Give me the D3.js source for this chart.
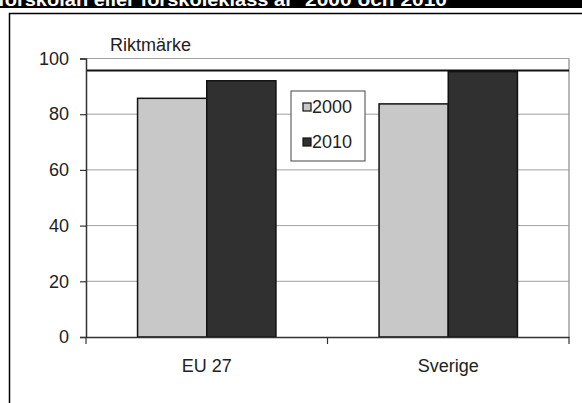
<!DOCTYPE html>
<html><head><meta charset="utf-8">
<script src="https://cdn.jsdelivr.net/npm/d3@7"></script>
<style>body{margin:0;background:#fff}svg{display:block}text{font-family:"Liberation Sans",Arial,sans-serif}</style>
</head><body>
<script>
const categories = ["EU 27", "Sverige"];
const seriesNames = ["2000", "2010"];
const values2000 = [85.7, 83.7];
const values2010 = [92.0, 95.3];
const benchmark = 95.7;
const benchmarkLabel = "Riktmärke";
const yTicks = [0, 20, 40, 60, 80, 100];
const titleStart = "förskolan eller förskoleklass år";
const titleEnd = "2000 och 2010";

const W = 582, H = 403;
const svg = d3.select("body").append("svg").attr("width", W).attr("height", H);

// title band
svg.append("rect").attr("x",0).attr("y",0).attr("width",W).attr("height",8).attr("fill","#000");
svg.append("clipPath").attr("id","tc").append("rect").attr("x",0).attr("y",0).attr("width",W).attr("height",8);
const tt = svg.append("text").attr("clip-path","url(#tc)").attr("y",5.5).attr("fill","#fff")
  .attr("font-weight","bold").attr("font-size",19);
tt.append("tspan").attr("x",-2).attr("textLength",295).attr("lengthAdjust","spacingAndGlyphs").text(titleStart);
tt.append("tspan").attr("x",305).attr("textLength",142).attr("lengthAdjust","spacingAndGlyphs").text(titleEnd);

// outer frame
svg.append("path").attr("d","M9.5,420 L9.5,13.5 L600,13.5").attr("fill","none").attr("stroke","#000").attr("stroke-width",1.5);

const L = 86, R = 569, T = 58.5, B = 337;
const x = d3.scaleBand().domain(categories).range([L, R]).padding(0);
const groupW = x.bandwidth() * 0.573;
const x1 = d3.scaleBand().domain(seriesNames).range([0, groupW]).padding(0);
const y = d3.scaleLinear().domain([0, 100]).range([B, T]);
const colors = {"2000": "#c8c8c8", "2010": "#303030"};

// gridlines
svg.append("g").selectAll("line").data(yTicks.filter(d => d > 0)).join("line")
  .attr("x1", L).attr("x2", R).attr("y1", d => y(d)).attr("y2", d => y(d))
  .attr("stroke", "#a0a0a0").attr("stroke-width", 1);
// right border
svg.append("line").attr("x1", R).attr("x2", R).attr("y1", T).attr("y2", B).attr("stroke", "#a0a0a0").attr("stroke-width", 1.5);

// bars
const data = categories.map((c, i) => ({c, vals: [{s: "2000", v: values2000[i]}, {s: "2010", v: values2010[i]}]}));
const g = svg.append("g").selectAll("g").data(data).join("g")
  .attr("transform", d => `translate(${x(d.c) + (x.bandwidth() - groupW) / 2},0)`);
g.selectAll("rect").data(d => d.vals).join("rect")
  .attr("x", d => x1(d.s)).attr("width", x1.bandwidth())
  .attr("y", d => y(d.v)).attr("height", d => y(0) - y(d.v))
  .attr("fill", d => colors[d.s]).attr("stroke", "#111").attr("stroke-width", 1.5);

// benchmark line
svg.append("line").attr("x1", L).attr("x2", R).attr("y1", y(benchmark)).attr("y2", y(benchmark))
  .attr("stroke", "#111").attr("stroke-width", 2);
svg.append("text").attr("x", 110).attr("y", 51).attr("font-size", 18).attr("fill", "#222").text(benchmarkLabel);

// y axis
const yAxis = d3.axisLeft(y).tickValues(yTicks).tickSize(6).tickPadding(11).tickFormat(d3.format("d"));
const ya = svg.append("g").attr("transform", `translate(${L},0)`).call(yAxis);
ya.select(".domain").attr("stroke", "#333").attr("stroke-width", 1.5);
ya.selectAll(".tick line").attr("stroke", "#333").attr("stroke-width", 1.2);
ya.selectAll(".tick text").attr("font-size", 18).attr("fill", "#222").attr("font-family", "Liberation Sans, Arial, sans-serif");

// x axis
const xa = svg.append("g").attr("transform", `translate(0,${B})`).call(d3.axisBottom(x).tickSize(0).tickPadding(22));
xa.select(".domain").attr("stroke", "#333").attr("stroke-width", 1.5);
xa.selectAll(".tick text").attr("font-size", 18).attr("fill", "#222").attr("font-family", "Liberation Sans, Arial, sans-serif");
const bounds = [L, ...categories.map(c => x(c) + x.bandwidth())];
svg.append("g").selectAll("line").data(bounds).join("line")
  .attr("x1", d => d).attr("x2", d => d).attr("y1", B).attr("y2", B + 7)
  .attr("stroke", "#333").attr("stroke-width", 1.2);

// legend
const lg = svg.append("g").attr("transform", "translate(291,91)");
lg.append("rect").attr("x", 0).attr("y", 0).attr("width", 74).attr("height", 70)
  .attr("fill", "#fff").attr("stroke", "#444").attr("stroke-width", 1);
seriesNames.forEach((s, i) => {
  const cy = 16 + i * 35;
  lg.append("rect").attr("x", 12).attr("y", cy - 4).attr("width", 8).attr("height", 8)
    .attr("fill", colors[s]).attr("stroke", "#111").attr("stroke-width", 1.2);
  lg.append("text").attr("x", 21).attr("y", cy + 6).attr("font-size", 18).attr("fill", "#222").text(s);
});
</script>
</body></html>
